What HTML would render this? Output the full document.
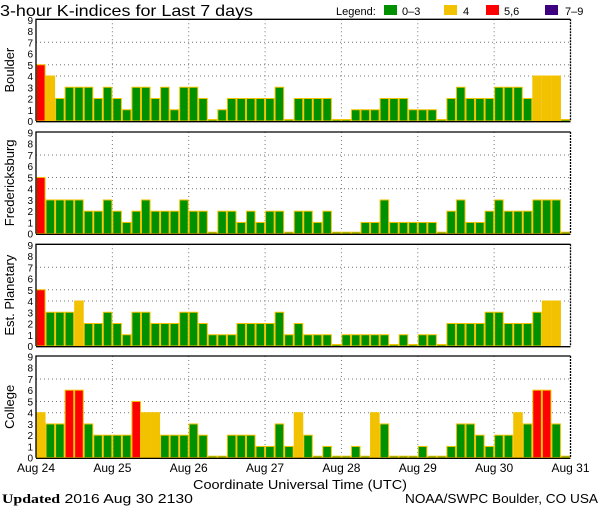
<!DOCTYPE html>
<html><head><meta charset="utf-8">
<style>
html,body{margin:0;padding:0;background:#fff;}
svg{display:block;font-family:"Liberation Sans",sans-serif;}
</style></head>
<body>
<svg id="chart" width="600" height="510" viewBox="0 0 600 510">
  <text x="0" y="16" font-size="16" fill="#000" textLength="253" lengthAdjust="spacingAndGlyphs">3-hour K-indices for Last 7 days</text>
  <g>
    <text x="336" y="15" font-size="11">Legend:</text>
    <rect x="384" y="5" width="13" height="10" fill="#009100"/>
    <text x="402" y="15" font-size="11">0–3</text>
    <rect x="444" y="5" width="13" height="10" fill="#f2c200"/>
    <text x="463" y="15" font-size="11">4</text>
    <rect x="486" y="5" width="13" height="10" fill="#ff0000"/>
    <text x="504" y="15" font-size="11">5,6</text>
    <rect x="545" y="5" width="13" height="10" fill="#3d0080"/>
    <text x="565" y="15" font-size="11">7–9</text>
  </g>
  <text x="193" y="489" font-size="13" textLength="214" lengthAdjust="spacingAndGlyphs">Coordinate Universal Time (UTC)</text>
  <text x="2" y="503" font-size="13" textLength="191" lengthAdjust="spacingAndGlyphs"><tspan font-family="Liberation Serif,serif" font-weight="bold">Updated</tspan> 2016 Aug 30 2130</text>
  <text x="405" y="503" font-size="13" textLength="193" lengthAdjust="spacingAndGlyphs">NOAA/SWPC Boulder, CO USA</text>
</svg>
<script>
const stations = ["Boulder","Fredericksburg","Est. Planetary","College"];
const boulder = [5,4,2,3,3,3,2,3,2,1,3,3,2,3,1,3,3,2,0,1,2,2,2,2,2,3,0,2, 2,2,2,0,0,1,1,1,2,2,2,1,1,1,0,2,3,2,2,2,3,3,3,2,4,4,4,0];
const fredericksburg = [5,3,3,3,3,2,2,3,2,1,2,3,2,2,2,3,2,2,0,2,2,1,2,1,2,2,0,2, 2,1,2,0,0,0,1,1,3,1,1,1,1,1,0,2,3,1,1,2,3,2,2,2,3,3,3,0];
const planetary = [5,3,3,3,4,2,2,3,2,1,3,3,2,2,2,3,3,2,1,1,1,2,2,2,2,3,1,2, 1,1,1,0,1,1,1,1,1,0,1,0,1,1,0,2,2,2,2,3,3,2,2,2,3,4,4,null];
const college = [4,3,3,6,6,3,2,2,2,2,5,4,4,2,2,2,3,2,0,0,2,2,2,1,1,3,1,4, 2,0,1,0,0,1,0,4,3,0,0,0,1,0,0,1,3,3,2,1,2,2,4,3,6,6,3,0];
const dayLabels = ["Aug 24","Aug 25","Aug 26","Aug 27","Aug 28","Aug 29","Aug 30","Aug 31"];
const yTicks = [0,1,2,3,4,5,6,7,8,9];
const gridLevels = [4,5,7];

const series = [boulder, fredericksburg, planetary, college];
const zeros = [121, 233.7, 346, 457.7];
const X0 = 36, X1 = 570.5, UNIT = 11.25, PH = 101.7;
const NB = 56;
const svg = document.getElementById('chart');
const NS = 'http://www.w3.org/2000/svg';
function mk(tag, attrs){const e=document.createElementNS(NS,tag);for(const k in attrs)e.setAttribute(k,attrs[k]);return e;}
const bw = (X1-X0)/NB;
function xs(i){return X0 + i*bw;}
function color(v){return v>=7?'#3d0080':v>=5?'#ff0000':v===4?'#f2c200':'#009100';}

series.forEach((vals, p) => {
  const z = zeros[p];
  function ys(v){return z - v*UNIT;}
  const g = mk('g',{});
  
  
  svg.appendChild(g);
  gridLevels.forEach(l => {
    const ln = mk('line',{x1:X0,x2:X1,y1:ys(l),y2:ys(l),stroke:'#777','stroke-dasharray':'1,3'});
    
    
    g.appendChild(ln);
  });
  for (let d=1; d<7; d++){
    const ln = mk('line',{x1:xs(d*8),x2:xs(d*8),y1:z-PH,y2:z,stroke:'#777','stroke-dasharray':'1,3'});
    
    
    g.appendChild(ln);
  }
  vals.forEach((v,i) => {
    if (v === null) return;
    const h = v === 0 ? 1.5 : v*UNIT;
    const r = mk('rect',{x:xs(i)+0.5,y:z-h,width:bw-1,height:h,fill:color(v),stroke:'#f2c200','stroke-width':1});
    
    
    g.appendChild(r);
  });
  const fr = mk('path',{d:`M${X0},${z} L${X0},${z-PH} L${X1},${z-PH}`,fill:'none',stroke:'#000','stroke-width':1.3});
  
  
  g.appendChild(fr);
  const bt = mk('line',{x1:X0,x2:X1,y1:z+0.7,y2:z+0.7,stroke:'#000','stroke-width':1.3});
  
  
  g.appendChild(bt);
  const rt = mk('line',{x1:X1,x2:X1,y1:z-PH,y2:z,stroke:'#000','stroke-width':1.3,'stroke-dasharray':'2,1'});
  
  
  g.appendChild(rt);
  yTicks.forEach(t => {
    const tx = mk('text',{x:33,y:ys(t)+4,'font-size':10,'text-anchor':'end'});
    tx.textContent = t;
    
    
    g.appendChild(tx);
  });
  const cy = z - PH/2;
  const lb = mk('text',{x:0,y:0,'font-size':13,'text-anchor':'middle',transform:`translate(14,${cy}) rotate(-90)`});
  lb.textContent = stations[p];
  
  
  g.appendChild(lb);
});
dayLabels.forEach((d,i) => {
  const tx = mk('text',{x:xs(i*8),y:472,'font-size':12,'text-anchor':'middle'});
  tx.textContent = d;
  
  
  svg.appendChild(tx);
});
</script>
</body></html>
